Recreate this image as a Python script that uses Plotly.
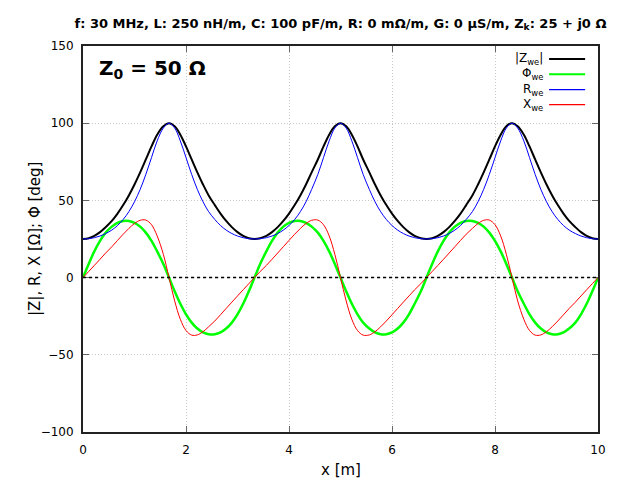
"""Input impedance along a lossless line (Z0 = 50 ohm, Zk = 25 ohm)."""

import plotly.graph_objects as go

# sample positions along the line [m]
x_m = [
    0.00, 0.11, 0.22, 0.33, 0.44, 0.56, 0.67, 0.78, 0.89, 1.00,
    1.11, 1.22, 1.33, 1.44, 1.56, 1.67, 1.78, 1.89, 2.00, 2.11,
    2.22, 2.33, 2.44, 2.56, 2.67, 2.78, 2.89, 3.00, 3.11, 3.22,
    3.33, 3.44, 3.56, 3.67, 3.78, 3.89, 4.00, 4.11, 4.22, 4.33,
    4.44, 4.56, 4.67, 4.78, 4.89, 5.00, 5.11, 5.22, 5.33, 5.44,
    5.56, 5.67, 5.78, 5.89, 6.00, 6.11, 6.22, 6.33, 6.44, 6.56,
    6.67, 6.78, 6.89, 7.00, 7.11, 7.22, 7.33, 7.44, 7.56, 7.67,
    7.78, 7.89, 8.00, 8.11, 8.22, 8.33, 8.44, 8.56, 8.67, 8.78,
    8.89, 9.00, 9.11, 9.22, 9.33, 9.44, 9.56, 9.67, 9.78, 9.89,
    10.00,
]

# |Z_we| [ohm]
z_abs = [
    25.0, 25.51, 27.01, 29.43, 32.68, 36.69, 41.45, 46.96, 53.24, 60.32, 68.14, 76.51, 84.95, 92.55, 98.0,
    100.0, 98.0, 92.55, 84.95, 76.51, 68.14, 60.32, 53.24, 46.96, 41.45, 36.69, 32.68, 29.43, 27.01, 25.51,
    25.0, 25.51, 27.01, 29.43, 32.68, 36.69, 41.45, 46.96, 53.24, 60.32, 68.14, 76.51, 84.95, 92.55, 98.0,
    100.0, 98.0, 92.55, 84.95, 76.51, 68.14, 60.32, 53.24, 46.96, 41.45, 36.69, 32.68, 29.43, 27.01, 25.51,
    25.0, 25.51, 27.01, 29.43, 32.68, 36.69, 41.45, 46.96, 53.24, 60.32, 68.14, 76.51, 84.95, 92.55, 98.0,
    100.0, 98.0, 92.55, 84.95, 76.51, 68.14, 60.32, 53.24, 46.96, 41.45, 36.69, 32.68, 29.43, 27.01, 25.51,
    25.0,
]

# phase [deg]
phi_deg = [
    0.0, 8.86, 16.97, 23.79, 29.14, 33.0, 35.5, 36.72, 36.72, 35.5, 33.0, 29.14, 23.79, 16.97, 8.86,
    0.0, -8.86, -16.97, -23.79, -29.14, -33.0, -35.5, -36.72, -36.72, -35.5, -33.0, -29.14, -23.79, -16.97, -8.86,
    0.0, 8.86, 16.97, 23.79, 29.14, 33.0, 35.5, 36.72, 36.72, 35.5, 33.0, 29.14, 23.79, 16.97, 8.86,
    0.0, -8.86, -16.97, -23.79, -29.14, -33.0, -35.5, -36.72, -36.72, -35.5, -33.0, -29.14, -23.79, -16.97, -8.86,
    0.0, 8.86, 16.97, 23.79, 29.14, 33.0, 35.5, 36.72, 36.72, 35.5, 33.0, 29.14, 23.79, 16.97, 8.86,
    0.0, -8.86, -16.97, -23.79, -29.14, -33.0, -35.5, -36.72, -36.72, -35.5, -33.0, -29.14, -23.79, -16.97, -8.86,
    0.0,
]

# R_we [ohm]
r_we = [
    25.0, 25.21, 25.84, 26.93, 28.54, 30.77, 33.74, 37.64, 42.68, 49.11, 57.14, 66.83, 77.73, 88.52, 96.83,
    100.0, 96.83, 88.52, 77.73, 66.83, 57.14, 49.11, 42.68, 37.64, 33.74, 30.77, 28.54, 26.93, 25.84, 25.21,
    25.0, 25.21, 25.84, 26.93, 28.54, 30.77, 33.74, 37.64, 42.68, 49.11, 57.14, 66.83, 77.73, 88.52, 96.83,
    100.0, 96.83, 88.52, 77.73, 66.83, 57.14, 49.11, 42.68, 37.64, 33.74, 30.77, 28.54, 26.93, 25.84, 25.21,
    25.0, 25.21, 25.84, 26.93, 28.54, 30.77, 33.74, 37.64, 42.68, 49.11, 57.14, 66.83, 77.73, 88.52, 96.83,
    100.0, 96.83, 88.52, 77.73, 66.83, 57.14, 49.11, 42.68, 37.64, 33.74, 30.77, 28.54, 26.93, 25.84, 25.21,
    25.0,
]

# X_we [ohm]
x_we = [
    0.0, 3.93, 7.88, 11.87, 15.91, 19.99, 24.07, 28.08, 31.83, 35.03, 37.12, 37.25, 34.27, 27.0, 15.1,
    0.0, -15.1, -27.0, -34.27, -37.25, -37.12, -35.03, -31.83, -28.08, -24.07, -19.99, -15.91, -11.87, -7.88, -3.93,
    0.0, 3.93, 7.88, 11.87, 15.91, 19.99, 24.07, 28.08, 31.83, 35.03, 37.12, 37.25, 34.27, 27.0, 15.1,
    0.0, -15.1, -27.0, -34.27, -37.25, -37.12, -35.03, -31.83, -28.08, -24.07, -19.99, -15.91, -11.87, -7.88, -3.93,
    0.0, 3.93, 7.88, 11.87, 15.91, 19.99, 24.07, 28.08, 31.83, 35.03, 37.12, 37.25, 34.27, 27.0, 15.1,
    0.0, -15.1, -27.0, -34.27, -37.25, -37.12, -35.03, -31.83, -28.08, -24.07, -19.99, -15.91, -11.87, -7.88, -3.93,
    0.0,
]

legend_labels = ["|Z<sub>we</sub>|", "Φ<sub>we</sub>", "R<sub>we</sub>", "X<sub>we</sub>"]
colors = ["#000000", "#00ff00", "#0000ff", "#ff0000"]
widths = [2, 2.5, 1, 1]
series = [z_abs, phi_deg, r_we, x_we]

FONT = "DejaVu Sans"


def main():
    fig = go.Figure()
    for vals, col, w in zip(series, colors, widths):
        fig.add_trace(go.Scatter(x=x_m, y=vals, mode="lines", line=dict(color=col, width=w, shape="spline"),
                                 showlegend=False))

    # dotted zero line
    fig.add_shape(type="line", xref="paper", yref="y", x0=0, x1=1, y0=0, y1=0,
                  line=dict(color="black", width=1.5, dash="dot"))

    # gnuplot-style key: label on the left, sample line on the right
    key_y = [0.966, 0.927, 0.887, 0.848]
    for lab, col, ky in zip(legend_labels, colors, key_y):
        fig.add_annotation(xref="paper", yref="paper", x=0.897, y=ky, text=lab, showarrow=False,
                           xanchor="right", yanchor="middle", font=dict(family=FONT, size=12, color="black"))
        fig.add_shape(type="line", xref="paper", yref="paper", x0=0.905, x1=0.975, y0=ky, y1=ky,
                      line=dict(color=col, width=2 if col in ("#000000", "#00ff00") else 1.2))

    fig.add_annotation(xref="paper", yref="paper", x=0.027, y=0.94, text="<b>Z<sub>0</sub> = 50 Ω</b>",
                       showarrow=False, xanchor="left", yanchor="middle",
                       font=dict(family=FONT, size=20, color="black"))

    # axis titles placed like gnuplot does
    fig.add_annotation(xref="paper", yref="paper", x=0, y=0.5, xshift=-48, text="|Z|, R, X [Ω]; Φ [deg]",
                       textangle=-90, showarrow=False, xanchor="center", yanchor="middle",
                       font=dict(family=FONT, size=15, color="black"))
    fig.add_annotation(xref="paper", yref="paper", x=0.5, y=0, yshift=-38, text="x [m]",
                       showarrow=False, xanchor="center", yanchor="middle",
                       font=dict(family=FONT, size=15, color="black"))

    axis_style = dict(showline=True, linecolor="#222", linewidth=2, mirror="ticks", ticks="inside",
                      ticklen=6, tickwidth=1, tickcolor="#666", showgrid=True, gridcolor="#c8c8c8",
                      griddash="1px,2px", gridwidth=1, zeroline=False,
                      tickfont=dict(family=FONT, size=12, color="black"))

    fig.update_xaxes(range=[0, 10], tickvals=[0, 2, 4, 6, 8, 10], ticklabelstandoff=6, **axis_style)
    fig.update_yaxes(range=[-100, 150], tickvals=[-100, -50, 0, 50, 100, 150], ticklabelstandoff=5,
                     **axis_style)

    # page body adds 8px around the figure, so margins are shifted accordingly
    fig.update_layout(
        width=640, height=480,
        margin=dict(l=75, r=50, t=38, b=56),
        paper_bgcolor="white", plot_bgcolor="white",
        title=dict(text="<b>f: 30 MHz, L: 250 nH/m, C: 100 pF/m, R: 0 mΩ/m, G: 0 μS/m, Z<sub>k</sub>: 25 + j0 Ω</b>",
                   x=0.5, xref="paper", xanchor="center", y=1 - 15 / 480, yanchor="middle",
                   font=dict(family=FONT, size=13, color="black")),
        font=dict(family=FONT, color="black"),
    )

    fig.write_html("out.html")


if __name__ == "__main__":
    main()
